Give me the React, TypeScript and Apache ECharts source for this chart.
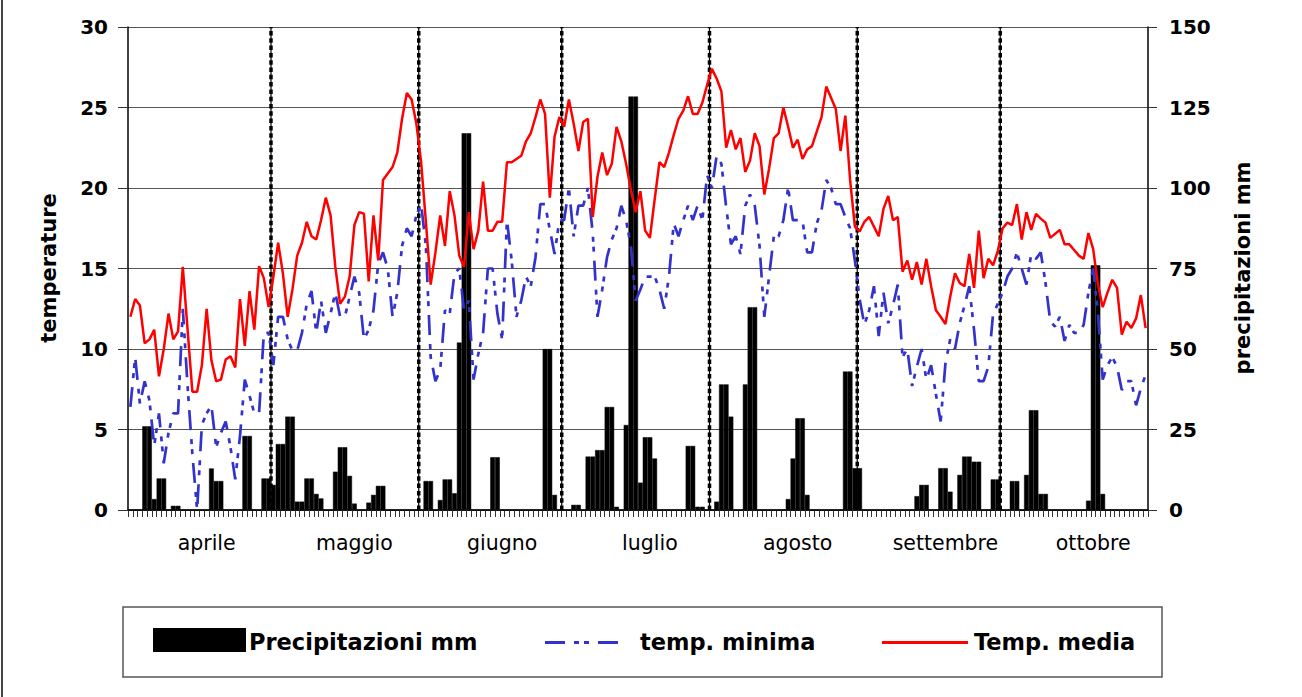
import React, { useEffect, useRef } from 'react';
import * as echarts from 'echarts';

// ---------- DATA ----------
const monthNames = ['aprile', 'maggio', 'giugno', 'luglio', 'agosto', 'settembre', 'ottobre'];
const monthDays = [30, 31, 30, 31, 31, 30, 31];
// day index (0 = 1 April) where each month label is printed (Excel label skip)
const labelDays = [16, 47, 78, 109, 140, 171, 202];

// Temp. media (°C), daily
const mediaApr = [12.0, 13.1, 12.7, 10.35, 10.6, 11.2, 8.3, 10.0, 12.2, 10.6, 11.1, 15.1, 11.2, 7.35, 7.35, 9.0, 12.5, 9.3, 8.0, 8.1, 9.35, 9.55, 8.85, 13.1, 10.2, 13.6, 11.2, 15.15, 14.4, 12.6];
const mediaMay = [14.5, 16.6, 14.7, 12.0, 13.7, 15.8, 16.6, 17.9, 17.0, 16.8, 18.0, 19.4, 18.3, 15.1, 12.8, 13.25, 14.5, 17.7, 18.5, 18.4, 14.2, 18.3, 15.5, 20.5, 20.9, 21.3, 22.2, 24.3, 25.9, 25.5, 24.0];
const mediaJun = [21.6, 17.9, 14.0, 16.0, 18.3, 16.4, 19.8, 18.3, 15.8, 15.1, 18.5, 16.2, 17.35, 20.4, 17.35, 17.35, 17.9, 17.9, 21.6, 21.6, 21.8, 22.0, 22.9, 23.4, 24.4, 25.5, 24.6, 19.4, 23.2, 24.4];
const mediaJul = [23.8, 25.5, 24.0, 22.3, 24.1, 24.3, 18.2, 20.7, 22.2, 20.8, 21.5, 23.8, 22.9, 21.5, 19.9, 18.5, 19.8, 17.35, 16.9, 19.3, 21.6, 21.3, 22.2, 23.3, 24.3, 24.8, 25.7, 24.6, 24.6, 25.3, 26.4];
const mediaAug = [27.4, 26.8, 26.0, 22.5, 23.6, 22.4, 23.1, 21.0, 21.7, 23.4, 22.6, 19.6, 21.2, 23.1, 23.4, 25.0, 23.8, 22.5, 23.0, 21.8, 22.4, 22.6, 23.5, 24.4, 26.3, 25.6, 24.9, 22.3, 24.5, 20.5, 17.6];
const mediaSep = [17.3, 17.9, 18.2, 17.6, 17.0, 18.7, 19.5, 18.0, 18.2, 14.8, 15.5, 14.3, 15.4, 14.0, 15.6, 13.9, 12.4, 12.0, 11.55, 13.25, 14.7, 14.1, 13.9, 15.9, 13.8, 17.35, 14.4, 15.6, 15.2, 16.1];
const mediaOct = [17.5, 17.85, 17.7, 19.0, 16.8, 18.5, 17.4, 18.4, 18.1, 17.85, 16.9, 17.15, 17.4, 16.5, 16.5, 16.15, 15.8, 15.6, 17.2, 16.2, 14.0, 12.6, 13.5, 14.3, 13.8, 10.9, 11.7, 11.3, 11.9, 13.35, 11.3];

// temp. minima (°C), daily
const minApr = [6.4, 9.5, 6.6, 8.0, 6.8, 4.0, 6.0, 2.9, 4.8, 6.0, 6.0, 12.5, 7.7, 3.5, 0.0, 5.3, 6.0, 6.5, 3.9, 4.8, 5.5, 3.9, 1.9, 4.6, 8.1, 7.1, 6.0, 6.0, 11.0, 11.0];
const minMay = [9.0, 12.0, 12.0, 10.6, 9.9, 9.9, 11.0, 12.8, 13.6, 11.0, 13.0, 11.0, 12.2, 13.5, 12.0, 12.0, 13.25, 14.5, 13.5, 10.6, 11.2, 12.4, 15.3, 16.0, 15.0, 12.0, 13.5, 16.4, 17.5, 17.0, 18.3];
const minJun = [19.0, 16.4, 9.5, 8.0, 8.7, 12.4, 12.2, 14.7, 15.0, 12.4, 13.0, 8.1, 9.7, 11.0, 15.0, 15.0, 12.2, 10.6, 18.0, 15.5, 12.0, 13.0, 14.5, 13.9, 15.7, 19.0, 19.0, 17.4, 15.9, 18.0];
const minJul = [18.0, 20.0, 17.0, 18.9, 18.9, 20.0, 17.2, 12.0, 13.7, 15.7, 16.8, 17.5, 18.9, 18.0, 16.4, 13.0, 13.7, 14.5, 14.5, 14.5, 13.7, 12.5, 14.5, 17.8, 17.0, 18.0, 18.9, 18.0, 18.9, 18.0, 20.8];
const minAug = [20.0, 22.0, 21.5, 18.8, 16.5, 17.0, 15.9, 18.9, 19.6, 18.9, 16.4, 12.0, 14.5, 17.0, 17.0, 18.0, 20.0, 18.0, 18.0, 18.0, 16.0, 16.0, 17.8, 18.6, 20.5, 20.0, 19.0, 19.0, 18.2, 17.5, 15.5];
const minSep = [13.1, 11.5, 12.4, 13.9, 10.8, 13.5, 11.6, 12.7, 14.0, 9.5, 10.0, 7.7, 8.9, 10.0, 8.1, 9.0, 7.2, 5.5, 9.1, 10.6, 10.0, 11.6, 12.7, 13.9, 11.2, 8.0, 8.0, 8.9, 12.2, 12.8];
const minOct = [13.5, 14.5, 15.0, 16.0, 15.0, 14.0, 15.9, 15.6, 16.0, 14.1, 11.7, 11.4, 12.0, 10.5, 11.5, 11.0, 11.0, 11.5, 13.5, 15.0, 12.2, 8.1, 9.0, 9.5, 8.9, 7.45, 8.0, 8.0, 6.5, 7.55, 8.4];

// Precipitazioni (mm), daily
const rainApr = [0, 0, 0, 26, 26, 3.4, 9.8, 9.8, 0, 1.3, 1.3, 0, 0, 0, 0, 0, 0, 12.9, 9, 9, 0, 0, 0, 0, 23, 23, 0, 0, 9.8, 9.8];
const rainMay = [7.8, 20.5, 20.5, 29, 29, 2.6, 2.6, 9.8, 9.8, 5, 3.6, 0, 0, 11.9, 19.5, 19.5, 10.6, 2.0, 0, 0, 2.3, 4.7, 7.5, 7.5, 0, 0, 0, 0, 0, 0, 0];
const rainJun = [0, 9, 9, 0, 3.1, 9.5, 9.5, 5.2, 52, 117, 117, 0, 0, 0, 0, 16.4, 16.4, 0, 0, 0, 0, 0, 0, 0, 0, 0, 50, 50, 4.7, 0];
const rainJul = [0, 0, 1.6, 1.6, 0, 16.6, 16.6, 18.6, 18.6, 32, 32, 1.0, 0, 26.4, 128.4, 128.4, 8.5, 22.6, 22.6, 16, 0, 0, 0, 0, 0, 0, 19.9, 19.9, 1.0, 1.0, 0];
const rainAug = [0, 2.6, 39, 39, 29, 0, 0, 39, 63, 63, 0, 0, 0, 0, 0, 0, 3.4, 16, 28.5, 28.5, 4.7, 0, 0, 0, 0, 0, 0, 0, 43, 43, 13];
const rainSep = [13, 0, 0, 0, 0, 0, 0, 0, 0, 0, 0, 0, 4.3, 7.8, 7.8, 0, 0, 13, 13, 5.7, 0, 10.9, 16.6, 16.6, 15, 15, 0, 0, 9.5, 9.5];
const rainOct = [0, 0, 9, 9, 0, 10.9, 31, 31, 5, 5, 0, 0, 0, 0, 0, 0, 0, 0, 2.9, 76, 76, 5, 0, 0, 0, 0, 0, 0, 0, 0, 0];

const tempTicks = { min: 0, max: 30, interval: 5 };
const rainTicks = { min: 0, max: 150, interval: 25 };

// ---------- DERIVED ----------
const tMedia = [...mediaApr, ...mediaMay, ...mediaJun, ...mediaJul, ...mediaAug, ...mediaSep, ...mediaOct];
const tMin = [...minApr, ...minMay, ...minJun, ...minJul, ...minAug, ...minSep, ...minOct];
const rain = [...rainApr, ...rainMay, ...rainJun, ...rainJul, ...rainAug, ...rainSep, ...rainOct];
const categories: string[] = monthDays.flatMap((n, m) =>
  Array.from({ length: n }, (_, d) => `${d + 1}/${m + 4}`)
);
const totalDays = categories.length;
const boundaries: number[] = [];
monthDays.slice(0, -1).forEach((n) => {
  boundaries.push((boundaries.length ? boundaries[boundaries.length - 1] : 0) + n);
});
const boundaryData = boundaries.flatMap((b) => [[b, tempTicks.min], [b, tempTicks.max], [b, null]]);
const labelMap: Record<number, string> = {};
labelDays.forEach((d, i) => { labelMap[d] = monthNames[i]; });

const FONT = 'DejaVu Sans';

export default function App() {
  const ref = useRef<HTMLDivElement>(null);
  useEffect(() => {
    if (!ref.current) return;
    const chart = echarts.init(ref.current, null, { renderer: 'svg' });
    const legendText = (text: string, x: number) => ({
      type: 'text', x, y: 642, silent: true,
      style: { text, fill: '#000', fontSize: 22.5, fontWeight: 'bold', fontFamily: FONT, align: 'left', verticalAlign: 'middle' },
    });
    chart.setOption({
      animation: false,
      backgroundColor: '#fff',
      textStyle: { fontFamily: FONT },
      grid: { left: 128, right: 154, top: 27, bottom: 187, containLabel: false },
      xAxis: [
        {
          type: 'category', data: categories, boundaryGap: true,
          axisLine: { show: true, lineStyle: { color: '#000', width: 1.5 } },
          axisTick: { show: true, interval: 0, length: 7, lineStyle: { color: '#333', width: 1 } },
          axisLabel: {
            interval: (i: number) => labelDays.includes(i),
            formatter: (_v: string, i: number) => labelMap[i] ?? '',
            fontSize: 20.5, color: '#000', margin: 22, fontFamily: FONT,
          },
          splitLine: { show: false },
        },
        { type: 'value', min: 0, max: totalDays, show: false },
      ],
      yAxis: [
        {
          type: 'value', ...tempTicks, position: 'left',
          axisLine: { show: true, lineStyle: { color: '#000', width: 1.5 } },
          axisTick: { show: true, length: 10, lineStyle: { color: '#333' } },
          axisLabel: { fontSize: 20, fontWeight: 'bold', color: '#000', margin: 20, fontFamily: FONT },
          splitLine: { show: true, lineStyle: { color: '#555', width: 1 } },
        },
        {
          type: 'value', ...rainTicks, position: 'right',
          axisLine: { show: true, lineStyle: { color: '#000', width: 1.5 } },
          axisTick: { show: true, length: 9, lineStyle: { color: '#333' } },
          axisLabel: { fontSize: 20, fontWeight: 'bold', color: '#000', margin: 21, fontFamily: FONT },
          splitLine: { show: false },
        },
      ],
      series: [
        {
          name: 'Precipitazioni mm', type: 'bar', xAxisIndex: 0, yAxisIndex: 1, data: rain,
          barCategoryGap: '0%', itemStyle: { color: '#000', borderColor: '#000', borderWidth: 0.5 }, silent: true,
        },
        {
          name: 'mesi', type: 'line', xAxisIndex: 1, yAxisIndex: 0, data: boundaryData,
          symbol: 'none', connectNulls: false, silent: true,
          lineStyle: { color: '#000', width: 1.2 },
        },
        {
          name: 'mesi2', type: 'line', xAxisIndex: 1, yAxisIndex: 0, data: boundaryData,
          symbol: 'none', connectNulls: false, silent: true,
          lineStyle: { color: '#000', width: 3.5, type: [4.5, 2.8] },
        },
        {
          name: 'temp. minima', type: 'line', xAxisIndex: 0, yAxisIndex: 0, data: tMin,
          symbol: 'none', silent: true,
          lineStyle: { color: '#3333CC', width: 2.7, type: [20, 9, 5, 5, 5, 9] },
        },
        {
          name: 'Temp. media', type: 'line', xAxisIndex: 0, yAxisIndex: 0, data: tMedia,
          symbol: 'none', silent: true,
          lineStyle: { color: '#FF0000', width: 2.5 },
        },
      ],
      graphic: [
        { type: 'line', silent: true, shape: { x1: 2, y1: 0, x2: 2, y2: 697 }, style: { stroke: '#444', lineWidth: 2 } },
        {
          type: 'text', x: 49, y: 268, rotation: Math.PI / 2, silent: true,
          style: { text: 'temperature', fill: '#000', fontSize: 21, fontWeight: 'bold', fontFamily: FONT, align: 'center', verticalAlign: 'middle' },
        },
        {
          type: 'text', x: 1243, y: 268, rotation: Math.PI / 2, silent: true,
          style: { text: 'precipitazioni mm', fill: '#000', fontSize: 21, fontWeight: 'bold', fontFamily: FONT, align: 'center', verticalAlign: 'middle' },
        },
        { type: 'rect', silent: true, shape: { x: 123, y: 607, width: 1039, height: 70 }, style: { fill: '#fff', stroke: '#555', lineWidth: 1.5 } },
        { type: 'rect', silent: true, shape: { x: 153, y: 628, width: 93, height: 24 }, style: { fill: '#000' } },
        legendText('Precipitazioni mm', 249),
        { type: 'line', silent: true, shape: { x1: 545, y1: 642.5, x2: 622, y2: 642.5 }, style: { stroke: '#3333CC', lineWidth: 3, lineDash: [20, 9, 5, 5, 5, 9] } },
        legendText('temp. minima', 640),
        { type: 'line', silent: true, shape: { x1: 882, y1: 642.5, x2: 968, y2: 642.5 }, style: { stroke: '#FF0000', lineWidth: 3 } },
        legendText('Temp. media', 974),
      ],
    });
    return () => chart.dispose();
  }, []);
  return (
    <div
      ref={ref}
      style={{ position: 'fixed', left: 0, top: 0, width: 1302, height: 697, background: '#fff' }}
    />
  );
}
